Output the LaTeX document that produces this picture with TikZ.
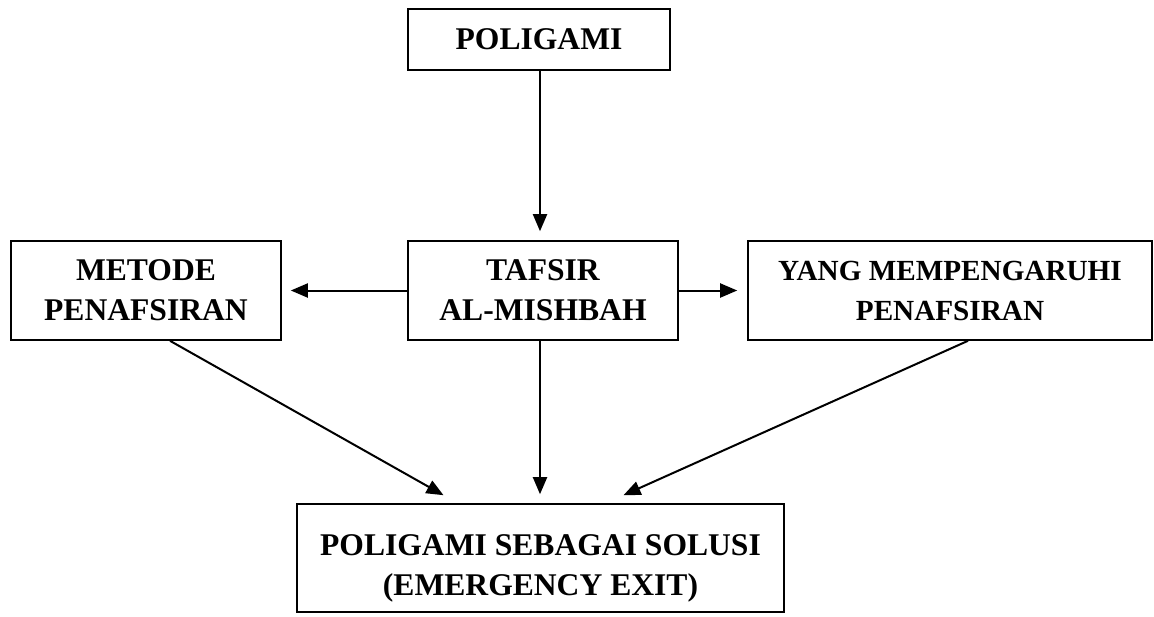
\documentclass[tikz,border=0pt]{standalone}
\usepackage{fontspec}
\setmainfont{Liberation Serif}
\usetikzlibrary{calc, positioning}
\usetikzlibrary{arrows.meta}

\begin{document}
\begin{tikzpicture}[x=0.5pt, y=-0.5pt,
  box/.style={draw, line width=0.8pt, align=center, inner sep=0pt,
    font=\fontsize{15.8}{20}\selectfont\bfseries},
  arr/.style={-{Triangle[length=8.5pt, width=7pt]}, line width=1pt}]
\useasboundingbox (0,0) rectangle (1154,616);

\node[box, minimum width=131pt, minimum height=30.5pt] (P) at (539,39.5) {POLIGAMI};
\node[box, minimum width=135pt, minimum height=49.5pt] (T) at (543,290.5) {TAFSIR\\AL-MISHBAH};
\node[box, minimum width=135pt, minimum height=49.5pt] (M) at (146,290.5) {METODE\\PENAFSIRAN};
\node[box, minimum width=202pt, minimum height=49.5pt,
  font=\fontsize{14.6}{20}\selectfont\bfseries] (Y) at (950,290.5) {YANG MEMPENGARUHI\\PENAFSIRAN};
\node[box, minimum width=243.5pt, minimum height=54pt, text height=37pt, text depth=0pt]
  (S) at (540.5,558) {POLIGAMI SEBAGAI SOLUSI\\(EMERGENCY EXIT)};

\draw[arr] (P.south -| 540,0) -- ([yshift=4.5pt]T.north -| 540,0);
\draw[arr] (T.west) -- ([xshift=4.5pt]M.east);
\draw[arr] (T.east) -- ([xshift=-5pt]Y.west);
\draw[arr] ([xshift=12pt]M.south) -- ([xshift=-48.5pt, yshift=4pt]S.north);
\draw[arr] (T.south -| 540,0) -- ([yshift=4.5pt]S.north -| 540,0);
\draw[arr] ([xshift=9pt]Y.south) -- ([xshift=41.5pt, yshift=4pt]S.north);
\end{tikzpicture}
\end{document}
